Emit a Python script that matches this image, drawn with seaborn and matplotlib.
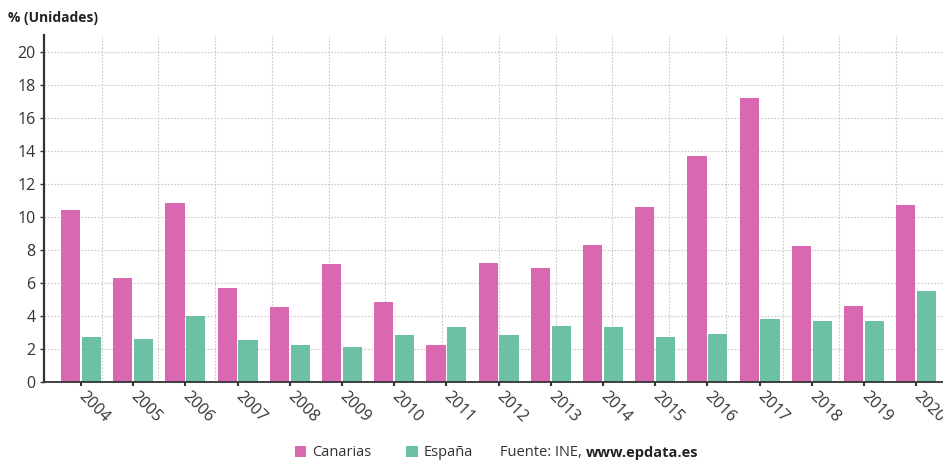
import numpy as np
import pandas as pd
import matplotlib
matplotlib.use("Agg")
import matplotlib.pyplot as plt
import seaborn as sns
from matplotlib.patches import Patch

years = ["2004", "2005", "2006", "2007", "2008", "2009", "2010", "2011", "2012",
         "2013", "2014", "2015", "2016", "2017", "2018", "2019", "2020"]
canarias = [10.4, 6.3, 10.8, 5.7, 4.5, 7.1, 4.8, 2.2, 7.2, 6.9, 8.3, 10.6, 13.7, 17.2, 8.2, 4.6, 10.7]
espana = [2.7, 2.6, 4.0, 2.5, 2.2, 2.1, 2.8, 3.3, 2.8, 3.4, 3.3, 2.7, 2.9, 3.8, 3.7, 3.7, 5.5]
series = ["Canarias", "España"]
yticks = [0, 2, 4, 6, 8, 10, 12, 14, 16, 18, 20]

PINK = "#DA68B0"
GREEN = "#6CC0A4"

df = pd.DataFrame({
    "year": years * 2,
    "value": canarias + espana,
    "serie": [series[0]] * len(years) + [series[1]] * len(years),
})

sns.set_style("white")
plt.rcParams["font.family"] = ["Open Sans", "DejaVu Sans"]

fig = plt.figure(figsize=(9.43, 4.62), dpi=100)
ax = fig.add_axes([44 / 943, 80.3 / 462, (953.2 - 44) / 943, (381.7 - 35) / 462])

sns.barplot(data=df, x="year", y="value", hue="serie", palette=[PINK, GREEN],
            saturation=1, width=0.8, gap=0.08, ax=ax, legend=False, edgecolor="none")

ax.set_xlim(-0.709, 16.709)
ax.set_ylim(0, 21)
ax.set_yticks(yticks)
ax.set_xlabel("")
ax.set_ylabel("")

# grid
ax.yaxis.grid(True, linestyle=(0, (1.5, 1.5)), color="#c8c8c8", linewidth=0.8)
for k in range(15):
    ax.axvline(0.397 + 1.087 * k, linestyle=(0, (1.5, 1.5)), color="#c8c8c8", linewidth=0.8, zorder=0)
ax.set_axisbelow(True)

for s in ["top", "right"]:
    ax.spines[s].set_visible(False)
ax.spines["left"].set_color("#333333")
ax.spines["left"].set_linewidth(1.6)
ax.spines["bottom"].set_color("#333333")
ax.spines["bottom"].set_linewidth(1.3)
ax.spines["bottom"].set_linestyle((0, (3, 1)))

ax.tick_params(axis="y", length=3, width=1, color="#333333", labelsize=11.5, labelcolor="#333333", pad=3, left=True)
ax.tick_params(axis="x", length=3, width=1.5, color="#333333", labelsize=11.5, labelcolor="#333333", pad=6, bottom=True)
for lbl in ax.get_xticklabels():
    lbl.set_rotation(-45)
    lbl.set_ha("left")
    lbl.set_va("center")
    lbl.set_rotation_mode("anchor")

fig.text(8 / 943, 1 - 18 / 462, "% (Unidades)", fontsize=10, fontweight="bold",
         color="#222222", ha="left", va="center")

handles = [Patch(facecolor=PINK, edgecolor="none"), Patch(facecolor=GREEN, edgecolor="none")]
fig.legend(handles, series, loc="center", bbox_to_anchor=(384 / 943, 1 - 453 / 462), ncol=2,
           frameon=False, fontsize=10.5, handlelength=0.8, handleheight=0.8, handletextpad=0.4,
           columnspacing=2.4, labelcolor="#333333")
t1 = fig.text(500 / 943, 1 - 453 / 462, "Fuente: INE,", fontsize=10.5, color="#333333",
              ha="left", va="center")
fig.canvas.draw()
bb = t1.get_window_extent(renderer=fig.canvas.get_renderer())
fig.text((bb.x1 + 4) / fig.bbox.width, 1 - 453 / 462, "www.epdata.es", fontsize=10.5,
         color="#222222", fontweight="bold", ha="left", va="center")

fig.savefig("out.png", dpi=100)
